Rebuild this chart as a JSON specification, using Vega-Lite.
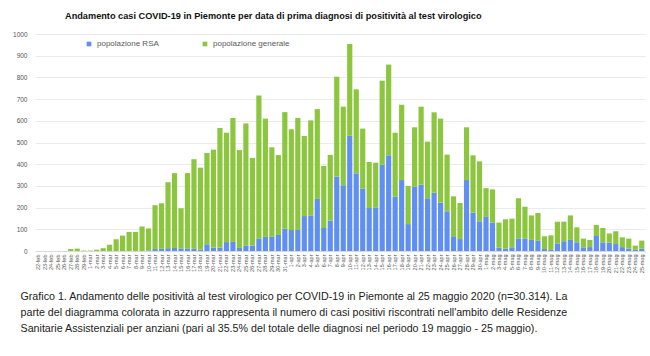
{
  "$schema": "https://vega.github.io/schema/vega-lite/v6.json",
  "autosize": {"type": "none"},
  "width": 610,
  "height": 217,
  "padding": {"left": 35, "top": 34, "right": 5, "bottom": 105},
  "background": "white",
  "title": {
    "text": "Andamento casi COVID-19 in Piemonte per data di prima diagnosi di positività al test virologico",
    "anchor": "start",
    "frame": "group",
    "dx": 30,
    "offset": 3,
    "baseline": "alphabetic",
    "font": "Liberation Sans",
    "fontSize": 9.2,
    "fontWeight": "bold",
    "color": "#111111"
  },
  "data": {
    "values": [
      {"d":"22-feb","rsa":0,"gen":0},{"d":"23-feb","rsa":0,"gen":0},{"d":"24-feb","rsa":0,"gen":0},{"d":"25-feb","rsa":0,"gen":0},
      {"d":"26-feb","rsa":0,"gen":0},{"d":"27-feb","rsa":0,"gen":9},{"d":"28-feb","rsa":0,"gen":11},{"d":"29-feb","rsa":0,"gen":2},
      {"d":"1-mar","rsa":0,"gen":2},{"d":"2-mar","rsa":0,"gen":6},{"d":"3-mar","rsa":0,"gen":13},{"d":"4-mar","rsa":0,"gen":29},
      {"d":"5-mar","rsa":0,"gen":54},{"d":"6-mar","rsa":0,"gen":71},{"d":"7-mar","rsa":0,"gen":88},{"d":"8-mar","rsa":0,"gen":88},
      {"d":"9-mar","rsa":0,"gen":113},{"d":"10-mar","rsa":3,"gen":101},{"d":"11-mar","rsa":9,"gen":202},{"d":"12-mar","rsa":10,"gen":210},
      {"d":"13-mar","rsa":13,"gen":304},{"d":"14-mar","rsa":14,"gen":345},{"d":"15-mar","rsa":12,"gen":185},{"d":"16-mar","rsa":12,"gen":347},
      {"d":"17-mar","rsa":10,"gen":413},{"d":"18-mar","rsa":7,"gen":377},{"d":"19-mar","rsa":31,"gen":421},{"d":"20-mar","rsa":16,"gen":451},
      {"d":"21-mar","rsa":16,"gen":551},{"d":"22-mar","rsa":41,"gen":504},{"d":"23-mar","rsa":42,"gen":571},{"d":"24-mar","rsa":14,"gen":451},
      {"d":"25-mar","rsa":26,"gen":562},{"d":"26-mar","rsa":25,"gen":404},{"d":"27-mar","rsa":57,"gen":660},{"d":"28-mar","rsa":65,"gen":545},
      {"d":"29-mar","rsa":65,"gen":413},{"d":"30-mar","rsa":74,"gen":368},{"d":"31-mar","rsa":103,"gen":537},{"d":"1-apr","rsa":97,"gen":464},
      {"d":"2-apr","rsa":97,"gen":516},{"d":"3-apr","rsa":161,"gen":369},{"d":"4-apr","rsa":164,"gen":438},{"d":"5-apr","rsa":240,"gen":414},
      {"d":"6-apr","rsa":106,"gen":286},{"d":"7-apr","rsa":140,"gen":303},{"d":"8-apr","rsa":343,"gen":460},{"d":"9-apr","rsa":303,"gen":362},
      {"d":"10-apr","rsa":531,"gen":423},{"d":"11-apr","rsa":358,"gen":387},{"d":"12-apr","rsa":287,"gen":277},{"d":"13-apr","rsa":198,"gen":212},
      {"d":"14-apr","rsa":201,"gen":206},{"d":"15-apr","rsa":398,"gen":387},{"d":"16-apr","rsa":441,"gen":418},{"d":"17-apr","rsa":250,"gen":295},
      {"d":"18-apr","rsa":327,"gen":347},{"d":"19-apr","rsa":124,"gen":176},{"d":"20-apr","rsa":296,"gen":274},{"d":"21-apr","rsa":306,"gen":359},
      {"d":"22-apr","rsa":243,"gen":261},{"d":"23-apr","rsa":269,"gen":370},{"d":"24-apr","rsa":223,"gen":387},{"d":"25-apr","rsa":183,"gen":261},
      {"d":"26-apr","rsa":68,"gen":184},{"d":"27-apr","rsa":55,"gen":166},{"d":"28-apr","rsa":327,"gen":243},{"d":"29-apr","rsa":177,"gen":264},
      {"d":"30-apr","rsa":137,"gen":276},{"d":"1-mag","rsa":157,"gen":133},{"d":"2-mag","rsa":131,"gen":153},{"d":"3-mag","rsa":15,"gen":116},
      {"d":"4-mag","rsa":11,"gen":135},{"d":"5-mag","rsa":17,"gen":132},{"d":"6-mag","rsa":58,"gen":185},{"d":"7-mag","rsa":58,"gen":146},
      {"d":"8-mag","rsa":51,"gen":113},{"d":"9-mag","rsa":49,"gen":126},{"d":"10-mag","rsa":9,"gen":59},{"d":"11-mag","rsa":5,"gen":67},
      {"d":"12-mag","rsa":35,"gen":100},{"d":"13-mag","rsa":45,"gen":90},{"d":"14-mag","rsa":51,"gen":113},{"d":"15-mag","rsa":40,"gen":69},
      {"d":"16-mag","rsa":17,"gen":40},{"d":"17-mag","rsa":18,"gen":33},{"d":"18-mag","rsa":69,"gen":51},{"d":"19-mag","rsa":40,"gen":66},
      {"d":"20-mag","rsa":38,"gen":43},{"d":"21-mag","rsa":32,"gen":59},{"d":"22-mag","rsa":18,"gen":45},{"d":"23-mag","rsa":11,"gen":46},
      {"d":"24-mag","rsa":5,"gen":20},{"d":"25-mag","rsa":11,"gen":37}
    ]
  },
  "transform": [{"fold": ["rsa", "gen"], "as": ["k", "v"]}],
  "mark": {"type": "bar"},
  "encoding": {
    "x": {
      "field": "d",
      "type": "ordinal",
      "sort": null,
      "scale": {"paddingInner": 0.2, "paddingOuter": 0.1},
      "axis": {
        "labelAngle": -90,
        "labelFontSize": 5.5,
        "labelFont": "Liberation Sans",
        "labelColor": "#555555",
        "labelPadding": 3,
        "ticks": false,
        "domain": true,
        "domainColor": "#d9d9d9",
        "labelOverlap": false,
        "title": [
          "Grafico 1. Andamento delle positività al test virologico per COVID-19 in Piemonte al 25 maggio 2020 (n=30.314). La",
          "parte del diagramma colorata in azzurro rappresenta il numero di casi positivi riscontrati nell'ambito delle Residenze",
          "Sanitarie Assistenziali per anziani (pari al 35.5% del totale delle diagnosi nel periodo 19 maggio - 25 maggio)."
        ],
        "titleAnchor": "start",
        "titleAlign": "left",
        "titleBaseline": "top",
        "titleX": -15,
        "titleY": 40,
        "titleFont": "Liberation Sans",
        "titleFontSize": 10.7,
        "titleFontWeight": "normal",
        "titleLineHeight": 16,
        "titleColor": "#222222"
      }
    },
    "y": {
      "field": "v",
      "type": "quantitative",
      "stack": "zero",
      "scale": {"domain": [0, 1000]},
      "axis": {
        "values": [0,100,200,300,400,500,600,700,800,900,1000],
        "format": "d",
        "title": null,
        "domain": false,
        "ticks": false,
        "labelFontSize": 6.5,
        "labelFont": "Liberation Sans",
        "labelColor": "#555555",
        "labelPadding": 8,
        "gridColor": "#e6e6e6",
        "gridWidth": 0.8
      }
    },
    "color": {
      "field": "k",
      "type": "nominal",
      "scale": {"domain": ["rsa", "gen"], "range": ["#5f8ff0", "#8cc63f"]},
      "legend": {
        "title": null,
        "orient": "none",
        "direction": "horizontal",
        "legendX": 50,
        "legendY": 6,
        "symbolType": "square",
        "symbolSize": 22,
        "labelFontSize": 8,
        "labelFont": "Liberation Sans",
        "labelColor": "#595959",
        "columnPadding": 42,
        "labelExpr": "datum.label == 'rsa' ? 'popolazione RSA' : 'popolazione generale'"
      }
    },
    "order": {"field": "k", "sort": "descending"}
  },
  "config": {"view": {"stroke": null}}
}
